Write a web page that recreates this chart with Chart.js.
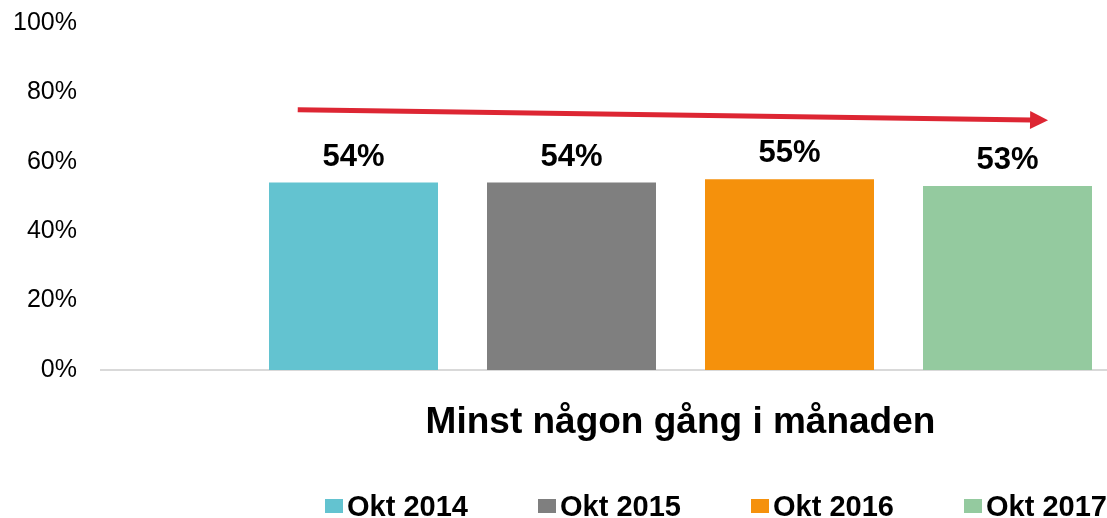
<!DOCTYPE html>
<html>
<head>
<meta charset="utf-8">
<script src="https://cdn.jsdelivr.net/npm/chart.js@4.4.1/dist/chart.umd.min.js"></script>
<style>
  html, body { margin: 0; padding: 0; background: #ffffff; }
  #wrap { width: 1107px; height: 518px; position: relative; }
</style>
</head>
<body>
<div id="wrap"><canvas id="chart" width="1107" height="518"></canvas></div>
<script>
// ---- data ----
const categories = ['Minst någon gång i månaden'];
const seriesNames = ['Okt 2014', 'Okt 2015', 'Okt 2016', 'Okt 2017'];
const okt2014 = [54];
const okt2015 = [54];
const okt2016 = [55];
const okt2017 = [53];
const yTickValues = [0, 20, 40, 60, 80, 100];
const trendStartPct = 75;   // red arrow start level
const trendEndPct = 72;     // red arrow tip level

// ---- styles ----
const seriesColors = ['#63C3D0', '#7F7F7F', '#F5910C', '#94CA9F'];
const FONT = "'Liberation Sans', Arial, Helvetica, sans-serif";
const outerLeft = 10;        // layout padding left
const plotLeft = 254;        // left edge of the plot area
const yLabelRight = 77;      // right edge of y tick labels
const baselineLeft = 100;    // where the horizontal baseline starts
const groupWidth = 872;      // width of the bar group
const barFill = 169 / 218;   // bar width / bar slot

const seriesValues = [okt2014, okt2015, okt2016, okt2017];

const baselinePlugin = {
  id: 'baseline',
  beforeDatasetsDraw(chart) {
    const { ctx, chartArea, scales } = chart;
    const y = scales.y.getPixelForValue(0);
    ctx.save();
    ctx.strokeStyle = '#D9D9D9';
    ctx.lineWidth = 2;
    ctx.beginPath();
    ctx.moveTo(baselineLeft, y);
    ctx.lineTo(chartArea.right, y);
    ctx.stroke();
    ctx.restore();
  }
};

const valueLabelPlugin = {
  id: 'valueLabels',
  afterDatasetsDraw(chart) {
    const { ctx } = chart;
    ctx.save();
    ctx.font = 'bold 31px ' + FONT;
    ctx.fillStyle = '#000000';
    ctx.textAlign = 'center';
    ctx.textBaseline = 'alphabetic';
    chart.data.datasets.forEach((ds, di) => {
      const meta = chart.getDatasetMeta(di);
      meta.data.forEach((el, i) => {
        ctx.fillText(ds.data[i] + '%', el.x, el.y - 17);
      });
    });
    ctx.restore();
  }
};

const trendArrowPlugin = {
  id: 'trendArrow',
  afterDatasetsDraw(chart) {
    const { ctx, scales } = chart;
    const first = chart.getDatasetMeta(0).data[0];
    const last = chart.getDatasetMeta(chart.data.datasets.length - 1).data[0];
    const x0 = first.x - first.width * 0.33;
    const x1 = last.x + last.width * 0.24;
    const y0 = scales.y.getPixelForValue(trendStartPct);
    const y1 = scales.y.getPixelForValue(trendEndPct);
    const dx = x1 - x0, dy = y1 - y0;
    const len = Math.hypot(dx, dy);
    const ux = dx / len, uy = dy / len;
    const head = 18, halfW = 9;
    const bx = x1 - ux * head, by = y1 - uy * head;
    ctx.save();
    ctx.strokeStyle = '#DD2633';
    ctx.fillStyle = '#DD2633';
    ctx.lineWidth = 5;
    ctx.beginPath();
    ctx.moveTo(x0, y0);
    ctx.lineTo(bx + ux * 1, by + uy * 1);
    ctx.stroke();
    ctx.beginPath();
    ctx.moveTo(x1, y1);
    ctx.lineTo(bx - uy * halfW, by + ux * halfW);
    ctx.lineTo(bx + uy * halfW, by - ux * halfW);
    ctx.closePath();
    ctx.fill();
    ctx.restore();
  }
};

const legendLeft = 325, legendStep = 213, legendBaseline = 516, boxW = 18, boxH = 14;
const customLegendPlugin = {
  id: 'customLegend',
  afterDraw(chart) {
    const { ctx } = chart;
    ctx.save();
    ctx.font = 'bold 29px ' + FONT;
    ctx.textAlign = 'left';
    ctx.textBaseline = 'alphabetic';
    chart.data.datasets.forEach((ds, i) => {
      const x = legendLeft + i * legendStep;
      ctx.fillStyle = ds.backgroundColor;
      ctx.fillRect(x, legendBaseline - 17, boxW, boxH);
      ctx.fillStyle = '#000000';
      ctx.fillText(ds.label, x + boxW + 4, legendBaseline);
    });
    ctx.restore();
  }
};

const xAxisHeight = 148;

new Chart(document.getElementById('chart'), {
  type: 'bar',
  data: {
    labels: categories,
    datasets: seriesNames.map((name, i) => ({
      label: name,
      data: seriesValues[i],
      backgroundColor: seriesColors[i],
      borderWidth: 0,
      categoryPercentage: 1,
      barPercentage: barFill
    }))
  },
  options: {
    responsive: false,
    animation: false,
    devicePixelRatio: 1,
    layout: { padding: { top: 23, left: outerLeft, right: 0, bottom: 0 } },
    plugins: {
      legend: { display: false },
      tooltip: { enabled: false },
      title: { display: false }
    },
    scales: {
      x: {
        grid: { display: false },
        border: { display: false },
        ticks: {
          color: '#000000',
          padding: 23,
          font: { family: FONT, size: 37, weight: 'bold' }
        },
        afterFit(scale) { scale.height = xAxisHeight; }
      },
      y: {
        min: 0,
        max: 100,
        grid: { display: false, drawTicks: false },
        border: { display: false },
        ticks: {
          color: '#000000',
          padding: plotLeft - yLabelRight,
          font: { family: FONT, size: 25 },
          callback: v => v + '%'
        },
        afterBuildTicks(scale) { scale.ticks = yTickValues.map(v => ({ value: v })); },
        afterFit(scale) {
          scale.width = plotLeft - outerLeft;
          scale.paddingTop = 12;
          scale.paddingBottom = 12;
        }
      }
    }
  },
  plugins: [baselinePlugin, valueLabelPlugin, trendArrowPlugin, customLegendPlugin]
});

// set the group width relative to the category width after layout
(function fixGroup() {
  const chart = Chart.getChart('chart');
  const catWidth = chart.chartArea.right - chart.chartArea.left;
  chart.data.datasets.forEach(ds => { ds.categoryPercentage = groupWidth / catWidth; });
  chart.update('none');
})();
</script>
</body>
</html>
